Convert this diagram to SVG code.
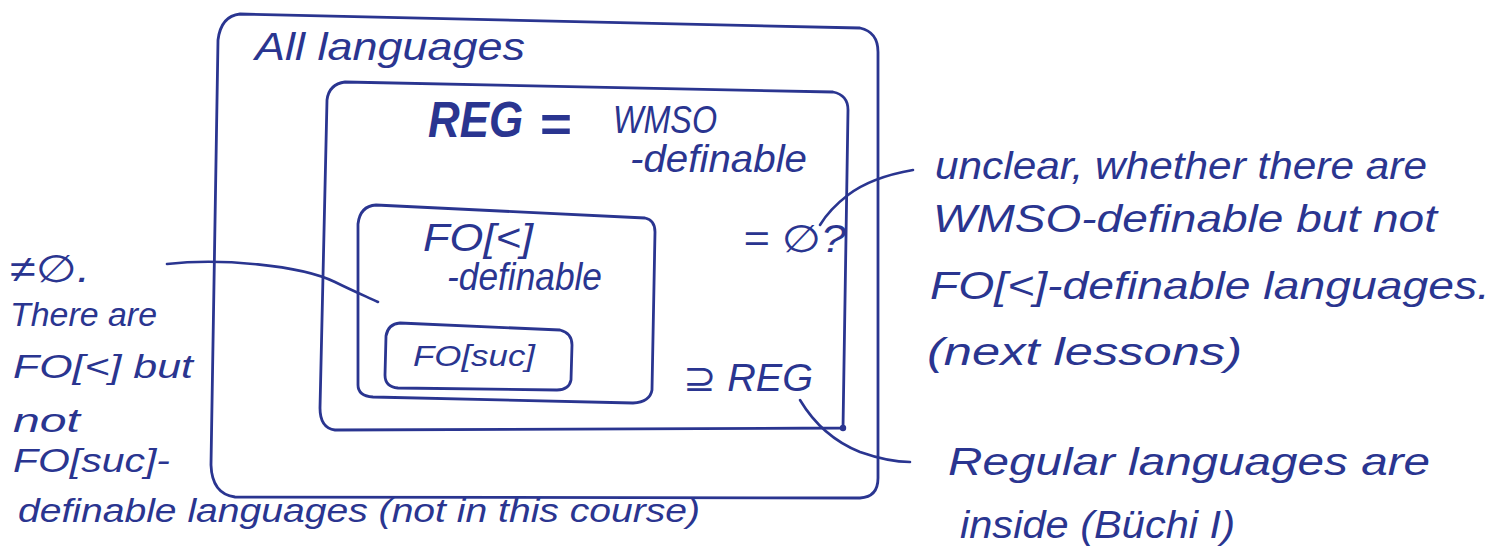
<svg xmlns="http://www.w3.org/2000/svg" width="1492" height="549" viewBox="0 0 1492 549">
<style>
.box{fill:none;stroke:#2a3590;stroke-width:2.8;stroke-linejoin:round;stroke-linecap:round}
.con{fill:none;stroke:#2a3590;stroke-width:2.6;stroke-linecap:round}
text{font-family:"Liberation Sans","DejaVu Sans",sans-serif;font-style:italic;fill:#2a3590}
.t{font-size:38px}
.m{font-size:34px}
.s{font-size:30px}
.b{font-size:50px;font-weight:bold}
</style>
<rect width="1492" height="549" fill="#ffffff"/>
<g id="all-languages">
<path class="box" d="M240,14 L860,28 Q878,32 878,52 L878,478 Q878,497 860,498 L235,497 Q212,494 211,465 L218,40 Q221,16 240,14 Z"/>
<text class="t" x="255" y="60" textLength="270" lengthAdjust="spacingAndGlyphs">All languages</text>
</g>
<g id="reg-wmso">
<path class="box" d="M345,82 L833,92 Q848,95 848,110 L843,428 L335,430 Q320,428 320,408 L327,100 Q329,84 345,82 Z"/>
<circle cx="843" cy="428" r="3.2" fill="#2a3590"/>
<text class="b" x="428" y="137" textLength="95" lengthAdjust="spacingAndGlyphs">REG</text>
<text class="b" x="539" y="142" textLength="32" lengthAdjust="spacingAndGlyphs">=</text>
<text class="t" x="613" y="133" textLength="104" lengthAdjust="spacingAndGlyphs">WMSO</text>
<text class="t" x="630" y="172" textLength="177" lengthAdjust="spacingAndGlyphs">-definable</text>
<text class="t" x="743" y="252" textLength="103" lengthAdjust="spacingAndGlyphs">= ∅?</text>
<text class="t" x="683" y="391" textLength="130" lengthAdjust="spacingAndGlyphs">⊇ REG</text>
</g>
<g id="fo-less">
<path class="box" d="M376,205 L645,218 Q655,220 655,232 L652,390 Q650,402 633,403 L373,397 Q358,396 358,385 L358,224 Q360,206 376,205 Z"/>
<text class="t" x="423" y="251" textLength="110" lengthAdjust="spacingAndGlyphs">FO[&lt;]</text>
<text class="t" x="447" y="290" textLength="155" lengthAdjust="spacingAndGlyphs">-definable</text>
</g>
<g id="fo-suc">
<path class="box" d="M400,323 L560,330 Q572,333 572,345 L571,380 Q569,390 557,390 L398,388 Q385,387 385,375 L386,336 Q388,324 400,323 Z"/>
<text class="s" x="413" y="366" textLength="122" lengthAdjust="spacingAndGlyphs">FO[suc]</text>
</g>
<g id="note-left">
<text class="t" x="10" y="282" textLength="80" lengthAdjust="spacingAndGlyphs">≠∅.</text>
<text class="m" x="10" y="326" textLength="147" lengthAdjust="spacingAndGlyphs">There are</text>
<text class="m" x="13" y="378" textLength="180" lengthAdjust="spacingAndGlyphs">FO[&lt;] but</text>
<text class="m" x="13" y="432" textLength="67" lengthAdjust="spacingAndGlyphs">not</text>
<text class="m" x="13" y="472" textLength="157" lengthAdjust="spacingAndGlyphs">FO[suc]-</text>
<text class="m" x="18" y="522" textLength="682" lengthAdjust="spacingAndGlyphs">definable languages (not in this course)</text>
</g>
<g id="note-right">
<text class="t" x="935" y="179" textLength="492" lengthAdjust="spacingAndGlyphs">unclear, whether there are</text>
<text class="t" x="933" y="232" textLength="504" lengthAdjust="spacingAndGlyphs">WMSO-definable but not</text>
<text class="t" x="930" y="299" textLength="560" lengthAdjust="spacingAndGlyphs">FO[&lt;]-definable languages.</text>
<text class="t" x="927" y="365" textLength="315" lengthAdjust="spacingAndGlyphs">(next lessons)</text>
</g>
<g id="note-bottom">
<text class="t" x="948" y="475" textLength="482" lengthAdjust="spacingAndGlyphs">Regular languages are</text>
<text class="t" x="960" y="538" textLength="275" lengthAdjust="spacingAndGlyphs">inside (Büchi I)</text>
</g>
<g id="connectors">
<path class="con" d="M167,264 C220,258 300,265 335,282 C355,292 370,298 378,302"/>
<path class="con" d="M913,170 C890,174 865,182 848,195 C835,205 826,215 820,225"/>
<path class="con" d="M800,400 C812,420 830,440 860,452 C880,459 895,462 910,462"/>
</g>
</svg>
